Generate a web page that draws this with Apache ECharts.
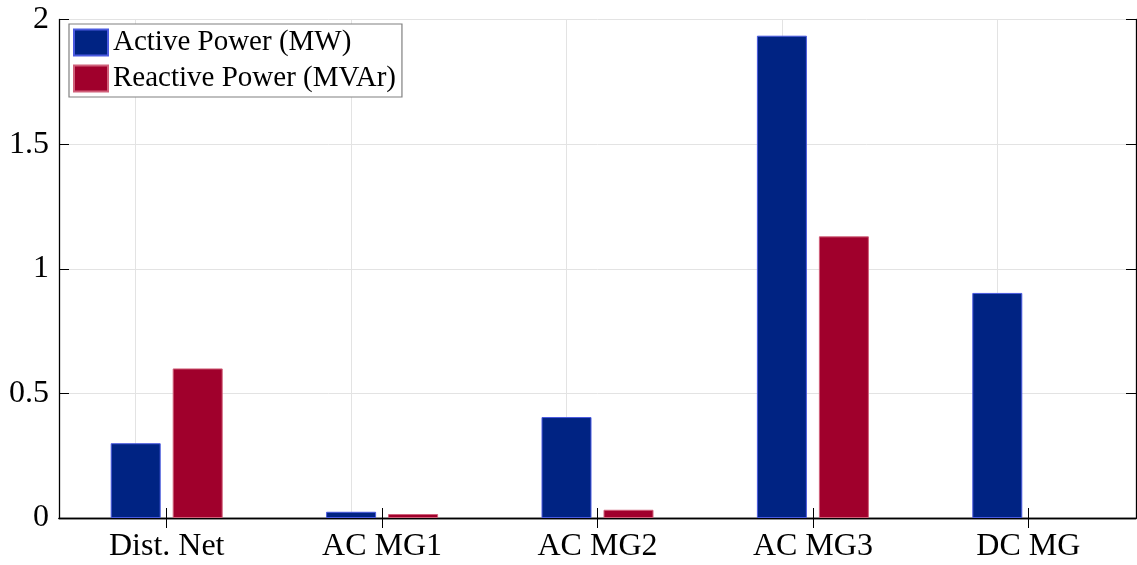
<!DOCTYPE html>
<html>
<head>
<meta charset="utf-8">
<script src="https://cdn.jsdelivr.net/npm/echarts@6/dist/echarts.min.js"></script>
<style>html,body{margin:0;padding:0;background:#fff}#c{width:1137px;height:565px}</style>
</head>
<body>
<div id="c"></div>
<script>
const categories = ['Dist. Net', 'AC MG1', 'AC MG2', 'AC MG3', 'DC MG'];
const activePower = [0.30, 0.025, 0.405, 1.935, 0.903];
const reactivePower = [0.60, 0.016, 0.033, 1.13, 0];
const yTicks = [0, 0.5, 1, 1.5, 2];
const seriesNames = ['Active Power (MW)', 'Reactive Power (MVAr)'];

const font = 'Liberation Serif';
const gridColor = '#e3e3e3';
const chart = echarts.init(document.getElementById('c'));
const axisLine = {show: true, lineStyle: {color: '#000', width: 1.3}};
chart.setOption({
  animation: false,
  grid: {left: 59, right: 1, top: 19.5, bottom: 47},
  legend: {
    orient: 'vertical', left: 69, top: 24, z: 10,
    padding: [4, 6, 4, 4], itemGap: 7,
    itemWidth: 34, itemHeight: 26,
    backgroundColor: '#fff', borderColor: '#808080', borderWidth: 1.2,
    textStyle: {fontFamily: font, fontSize: 29, color: '#000'},
    data: seriesNames.map(n => ({name: n, icon: 'rect'}))
  },
  xAxis: [{
    type: 'category', data: categories, position: 'bottom',
    axisLine: axisLine,
    axisTick: {show: true, inside: true, length: 10, alignWithLabel: true, lineStyle: {color: '#000'}},
    axisLabel: {fontFamily: font, fontSize: 32, color: '#000', margin: 13},
    splitLine: {show: false}
  }, {
    type: 'category', data: categories, position: 'top',
    axisLine: axisLine,
    axisTick: {show: true, inside: true, length: 10, alignWithLabel: true, lineStyle: {color: '#000'}},
    axisLabel: {show: false}, splitLine: {show: false}
  }],
  yAxis: [{
    type: 'value', min: yTicks[0], max: yTicks[yTicks.length - 1], interval: 0.5,
    position: 'left', axisLine: axisLine,
    axisTick: {show: true, inside: true, length: 10, lineStyle: {color: '#000'}},
    axisLabel: {fontFamily: font, fontSize: 32, color: '#000', margin: 10},
    splitLine: {show: true, lineStyle: {color: gridColor, width: 1}}
  }, {
    type: 'value', min: yTicks[0], max: yTicks[yTicks.length - 1], interval: 0.5,
    position: 'right', axisLine: axisLine,
    axisTick: {show: true, inside: true, length: 10, lineStyle: {color: '#000'}},
    axisLabel: {show: false}, splitLine: {show: false}
  }],
  series: [{
    name: seriesNames[0], type: 'bar', data: activePower, z: 3,
    barWidth: 50, barGap: '24%',
    itemStyle: {color: '#002383', borderColor: '#4a5ae0', borderWidth: 1},
    markLine: {
      silent: true, symbol: 'none', z: 1, label: {show: false},
      lineStyle: {color: gridColor, width: 1, type: 'solid'},
      data: categories.map(c => ({xAxis: c}))
    }
  }, {
    name: seriesNames[1], type: 'bar', z: 3,
    data: reactivePower.map(v => v === 0 ? {value: v, itemStyle: {borderWidth: 0, opacity: 0}} : v),
    barWidth: 50, barGap: '24%',
    itemStyle: {color: '#a0002c', borderColor: '#d0607a', borderWidth: 1}
  }]
});
</script>
</body>
</html>
